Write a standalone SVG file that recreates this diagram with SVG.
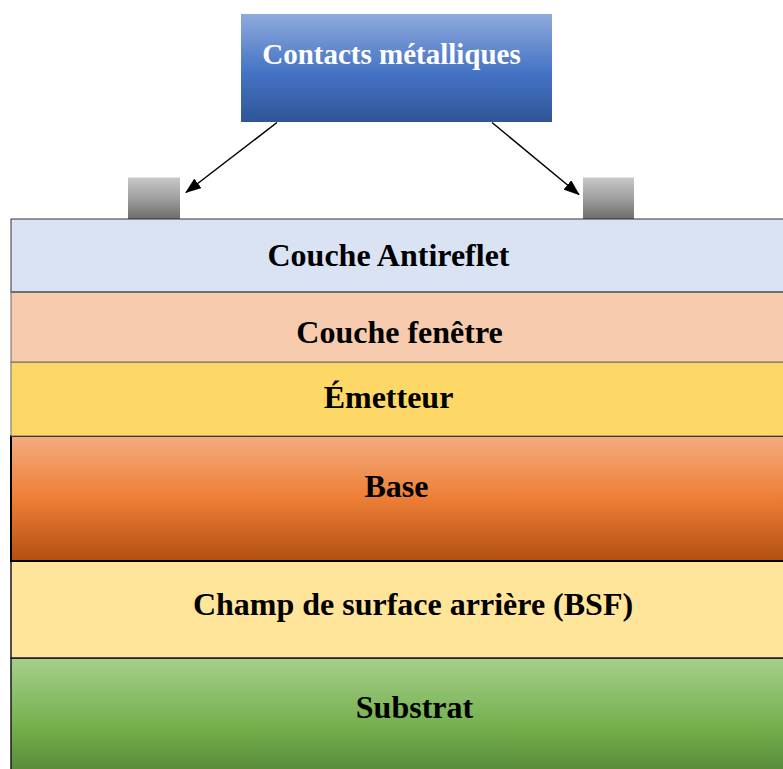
<svg xmlns="http://www.w3.org/2000/svg" width="783" height="769" viewBox="0 0 783 769">
  <defs>
    <linearGradient id="gBlue" x1="0" y1="0" x2="0" y2="1">
      <stop offset="0" stop-color="#8FAADC"/>
      <stop offset="0.55" stop-color="#4472C4"/>
      <stop offset="1" stop-color="#2F5597"/>
    </linearGradient>
    <linearGradient id="gGray" x1="0" y1="0" x2="0" y2="1">
      <stop offset="0" stop-color="#C8C8C8"/>
      <stop offset="0.5" stop-color="#A0A0A0"/>
      <stop offset="1" stop-color="#6C6C6C"/>
    </linearGradient>
    <linearGradient id="gOrange" x1="0" y1="0" x2="0" y2="1">
      <stop offset="0" stop-color="#F3AC7E"/>
      <stop offset="0.5" stop-color="#EE7E36"/>
      <stop offset="1" stop-color="#B24F12"/>
    </linearGradient>
    <linearGradient id="gGreen" x1="0" y1="0" x2="0" y2="1">
      <stop offset="0" stop-color="#A6D08C"/>
      <stop offset="0.55" stop-color="#72AE4A"/>
      <stop offset="1" stop-color="#4F7C35"/>
    </linearGradient>
    <marker id="arrow" viewBox="0 0 16 12" refX="15" refY="6" markerWidth="16" markerHeight="12" markerUnits="userSpaceOnUse" orient="auto">
      <path d="M0,0 L16,6 L0,12 z" fill="#000"/>
    </marker>
    <style>
      .lbl { font-family: "Liberation Serif", "Times New Roman", serif; font-weight: bold; font-size: 32px; fill: #000; text-anchor: middle; }
      .top { font-family: "Liberation Serif", "Times New Roman", serif; font-weight: bold; font-size: 29px; fill: #FFFFFF; text-anchor: middle; }
      .conn { stroke: #000; stroke-width: 1.5; fill: none; marker-end: url(#arrow); }
    </style>
  </defs>

  <g id="contacts-label">
    <rect x="241" y="14" width="311" height="108" fill="url(#gBlue)"/>
    <text class="top" x="391.5" y="64">Contacts métalliques</text>
  </g>

  <g id="contact-left">
    <rect x="128" y="177.5" width="52" height="41.5" fill="url(#gGray)"/>
  </g>
  <g id="contact-right">
    <rect x="583" y="177.5" width="51" height="41.5" fill="url(#gGray)"/>
  </g>

  <g id="layer-substrat">
    <rect x="11" y="658" width="800" height="130" fill="url(#gGreen)" stroke="#1a1a1a" stroke-width="1.5"/>
    <text class="lbl" x="414.5" y="718">Substrat</text>
  </g>
  <g id="layer-bsf">
    <rect x="11" y="561" width="800" height="97" fill="#FFE599" stroke="#1a1a1a" stroke-width="1.5"/>
    <text class="lbl" x="413" y="615">Champ de surface arrière (BSF)</text>
  </g>
  <g id="layer-base">
    <rect x="11" y="436" width="800" height="125" fill="url(#gOrange)" stroke="#000" stroke-width="2"/>
    <text class="lbl" x="396.5" y="497">Base</text>
  </g>
  <g id="layer-emetteur">
    <rect x="11" y="362" width="800" height="74" fill="#FDD866" stroke="#6b6b6b" stroke-width="1"/>
    <text class="lbl" x="388.5" y="408">Émetteur</text>
  </g>
  <g id="layer-fenetre">
    <rect x="11" y="292" width="800" height="70" fill="#F7CBAE" stroke="#6b6b6b" stroke-width="1"/>
    <text class="lbl" x="399.5" y="343">Couche fenêtre</text>
  </g>
  <g id="layer-antireflet">
    <rect x="11" y="219" width="800" height="73" fill="#DAE3F3" stroke="#333" stroke-width="1"/>
    <line x1="11" y1="292" x2="783" y2="292" stroke="#6f6f6f" stroke-width="2"/>
    <text class="lbl" x="388.5" y="266">Couche Antireflet</text>
  </g>

  <g id="connectors">
    <line class="conn" x1="277" y1="122.5" x2="186" y2="192.5"/>
    <line class="conn" x1="492" y1="122.5" x2="579" y2="194.5"/>
  </g>
</svg>
